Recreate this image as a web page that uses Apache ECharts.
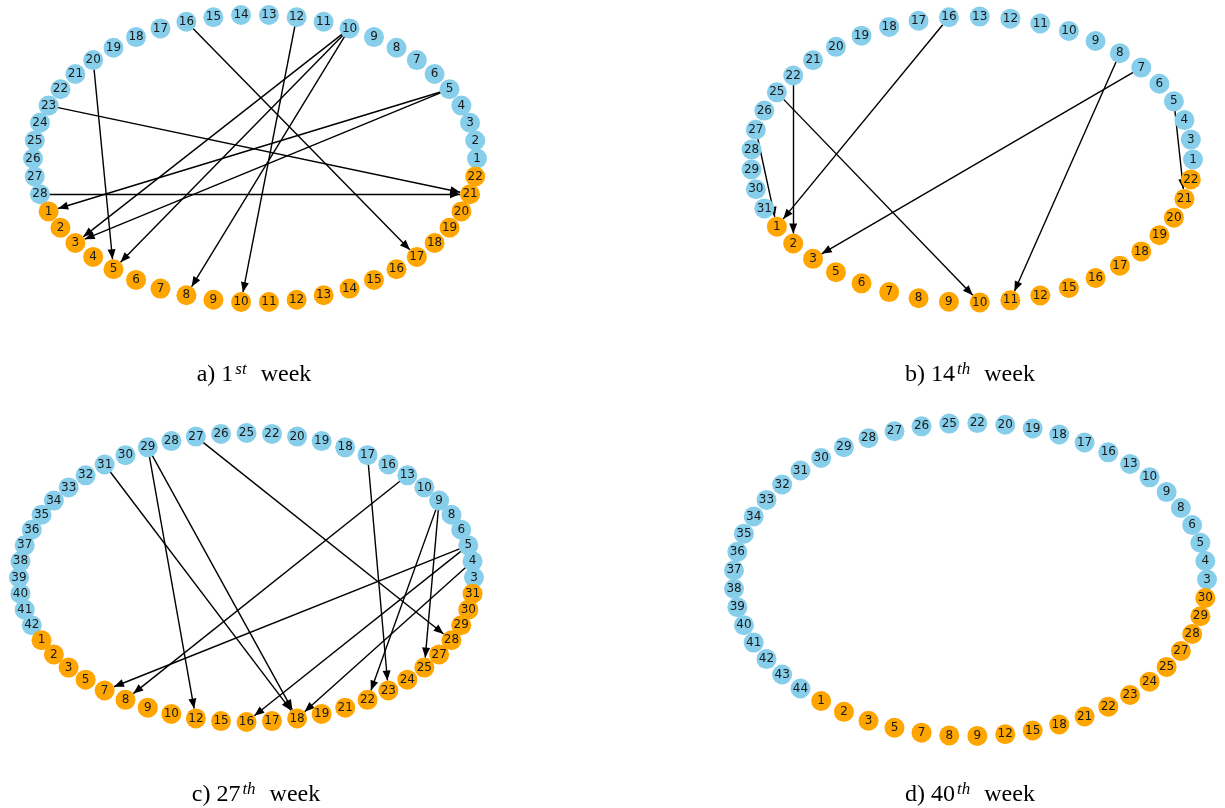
<!DOCTYPE html>
<html><head><meta charset="utf-8">
<script src="https://cdn.jsdelivr.net/npm/echarts@6/dist/echarts.min.js"></script>
<style>html,body{margin:0;padding:0;background:#fff}#c{width:1225px;height:808px}</style>
</head><body><div id="c"></div>
<script>
// ---- data ----
const blueA = [1,2,3,4,5,6,7,8,9,10,11,12,13,14,15,16,17,18,19,20,21,22,23,24,25,26,27,28];
const orangeA = [1,2,3,4,5,6,7,8,9,10,11,12,13,14,15,16,17,18,19,20,21,22];
const edgesA = [[20,5],[16,17],[23,21],[28,21],[10,3],[10,5],[10,8],[12,10],[5,1],[5,3]];

const blueB = [1,3,4,5,6,7,8,9,10,11,12,13,16,17,18,19,20,21,22,25,26,27,28,29,30,31];
const orangeB = [1,2,3,5,6,7,8,9,10,11,12,15,16,17,18,19,20,21,22];
const edgesB = [[16,1],[22,2],[25,10],[27,1],[7,3],[8,11],[5,21]];

const blueC = [3,4,5,6,8,9,10,13,16,17,18,19,20,22,25,26,27,28,29,30,31,32,33,34,35,36,37,38,39,40,41,42];
const orangeC = [1,2,3,5,7,8,9,10,12,15,16,17,18,19,21,22,23,24,25,27,28,29,30,31];
const edgesC = [[27,28],[31,18],[29,12],[29,18],[17,23],[13,8],[9,22],[9,25],[5,7],[5,16],[4,18]];

const blueD = [3,4,5,6,8,9,10,13,16,17,18,19,20,22,25,26,27,28,29,30,31,32,33,34,35,36,37,38,39,40,41,42,43,44];
const orangeD = [1,2,3,5,7,8,9,12,15,18,21,22,23,24,25,27,28,29,30];
const edgesD = [];

const captionMain = ['a) 1', 'b) 14', 'c) 27', 'd) 40'];
const captionSup = ['st', 'th', 'th', 'th'];

// ---- layout / style ----
const panels = [
  {cx:255, cy:158.5, rx:222, ry:143.8, capX:254, capY:375},
  {cx:972, cy:159.5, rx:221, ry:143,   capX:970, capY:375},
  {cx:246.5, cy:577.5, rx:227.5, ry:144.5, capX:256, capY:795},
  {cx:970.3, cy:579.5, rx:236.7, ry:156.5, capX:970, capY:795}
];
const BLUE = '#87CEEB', ORANGE = '#FFA500';
const sets = [[blueA,orangeA,edgesA],[blueB,orangeB,edgesB],[blueC,orangeC,edgesC],[blueD,orangeD,edgesD]];

const grids = [], xAxes = [], yAxes = [], series = [], graphics = [];
sets.forEach(([blue, orange, edges], p) => {
  const P = panels[p];
  grids.push({left:P.cx-P.rx, top:P.cy-P.ry, width:2*P.rx, height:2*P.ry});
  xAxes.push({type:'value', gridIndex:p, min:-1, max:1, show:false});
  yAxes.push({type:'value', gridIndex:p, min:-1, max:1, show:false});
  const n = blue.length + orange.length;
  const nodes = [];
  // circular layout (node i at angle 2*pi*i/n, counter-clockwise from the right)
  blue.forEach((b, i) => {
    const t = 2*Math.PI*i/n;
    nodes.push({id:'b'+b, name:String(b), value:[Math.cos(t), Math.sin(t)], itemStyle:{color:BLUE}});
  });
  orange.forEach((o, j) => {
    const t = 2*Math.PI*(blue.length+j)/n;
    nodes.push({id:'o'+o, name:String(o), value:[Math.cos(t), Math.sin(t)], itemStyle:{color:ORANGE}});
  });
  const links = edges.map(([s, t]) => ({source:'b'+s, target:'o'+t}));
  series.push({
    type:'graph', layout:'none', coordinateSystem:'cartesian2d',
    xAxisIndex:p, yAxisIndex:p,
    symbol:'circle', symbolSize:20,
    edgeSymbol:['none','path://M0,0L0.001,0M0,10L5,20L-5,20Z'],
    edgeSymbolSize:[0,[8,20]],
    data:nodes, links:links,
    label:{show:true, position:'inside', formatter:'{b}', fontSize:12, color:'#1a1a1a', fontFamily:'DejaVu Sans'},
    lineStyle:{color:'#000', width:1.4, opacity:1, curveness:0},
    itemStyle:{borderWidth:0},
    emphasis:{disabled:true},
    silent:true
  });
  graphics.push({
    type:'text', x:P.capX, y:P.capY,
    style:{
      text:'{m|'+captionMain[p]+'}{s|'+captionSup[p]+'}{m|  week}',
      align:'center', verticalAlign:'middle',
      rich:{
        m:{fontSize:24, lineHeight:28, fontFamily:'Liberation Serif', fill:'#000', color:'#000', verticalAlign:'middle'},
        s:{fontSize:17, lineHeight:20, fontFamily:'Liberation Serif', fontStyle:'italic', fill:'#000', color:'#000', verticalAlign:'top', padding:[0,2,0,2]}
      }
    }
  });
});

const chart = echarts.init(document.getElementById('c'), null, {renderer:'canvas'});
chart.setOption({
  animation:false,
  backgroundColor:'#fff',
  grid:grids, xAxis:xAxes, yAxis:yAxes,
  series:series,
  graphic:graphics
});
</script></body></html>
